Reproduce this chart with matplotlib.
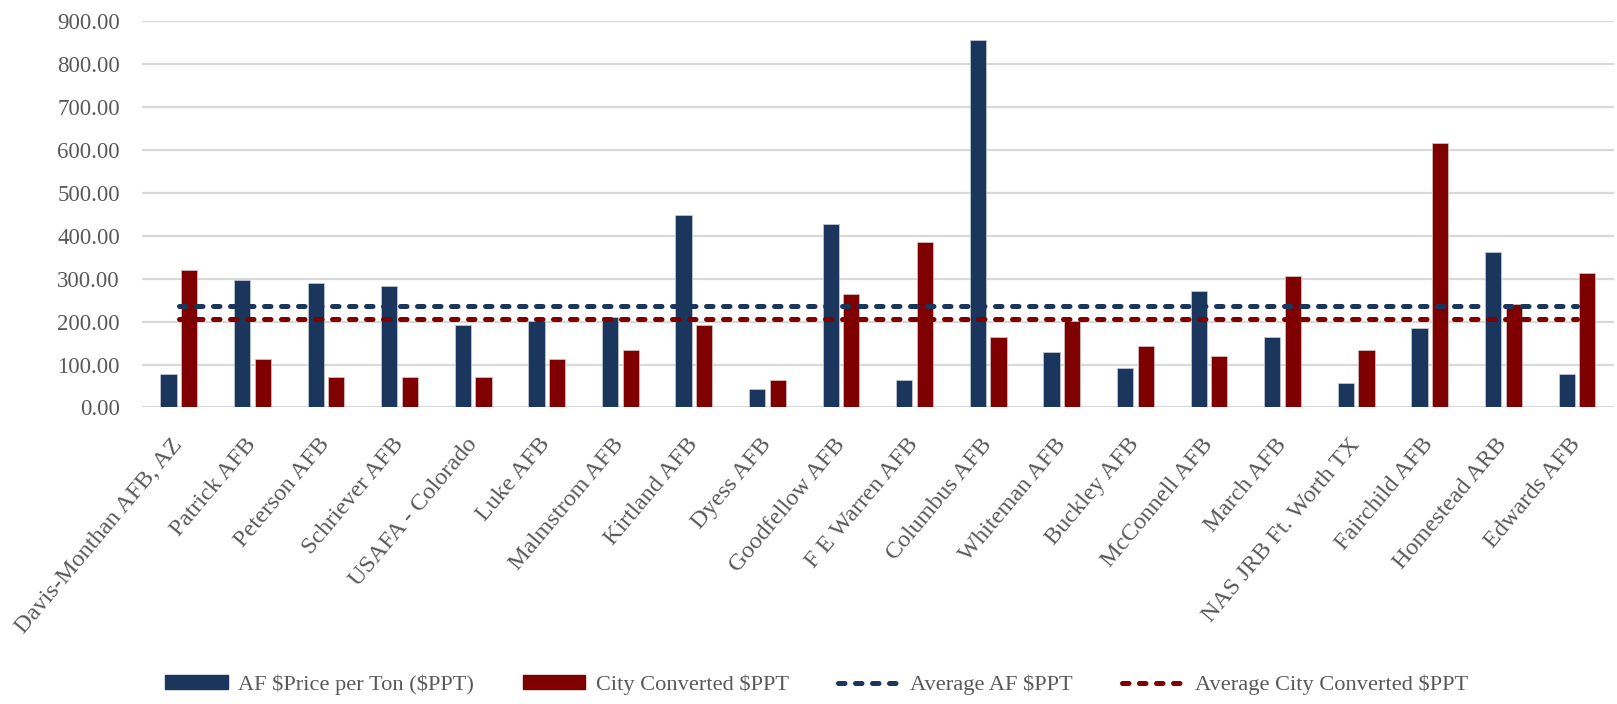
import numpy as np
import matplotlib
matplotlib.use("Agg")
import matplotlib.pyplot as plt
from matplotlib.lines import Line2D
from matplotlib.patches import Patch

# bases along the x axis
bases = ["Davis-Monthan AFB, AZ", "Patrick AFB", "Peterson AFB", "Schriever AFB",
         "USAFA - Colorado", "Luke AFB", "Malmstrom AFB", "Kirtland AFB", "Dyess AFB",
         "Goodfellow AFB", "F E Warren AFB", "Columbus AFB", "Whiteman AFB",
         "Buckley AFB", "McConnell AFB", "March AFB", "NAS JRB Ft. Worth TX",
         "Fairchild AFB", "Homestead ARB", "Edwards AFB"]

# values
af_ppt = [77, 298, 291, 284, 193, 201, 211, 449, 43, 427,
          65, 856, 129, 91, 271, 163, 56, 185, 363, 77]
city_ppt = [321, 114, 70, 70, 70, 114, 133, 193, 65, 264,
            385, 163, 201, 143, 121, 306, 133, 615, 241, 314]
avg_af = 237.0
avg_city = 207.0

yticks = [0, 100, 200, 300, 400, 500, 600, 700, 800, 900]

BLUE = "#1b365d"
RED = "#7f0000"
GRID = "#d9d9d9"
TXT = "#595959"

plt.rcParams['font.family'] = ['Liberation Serif', 'DejaVu Serif']
plt.rcParams['text.parse_math'] = False

fig = plt.figure(figsize=(16.17, 7.04), dpi=100)
ax = fig.add_axes([0.0878, 0.4212, 0.9102, 0.549])

x = np.arange(len(bases))
w = 0.22
ax.bar(x - 0.14, af_ppt, w, color=BLUE, edgecolor="#c8cdd8", linewidth=0.5, zorder=2)
ax.bar(x + 0.14, city_ppt, w, color=RED, edgecolor="#d8c8c8", linewidth=0.5, zorder=2)

dash = dict(lw=3.6, dashes=(1.3, 2.1), dash_capstyle='round', zorder=3)
ax.plot(x, np.full(len(x), avg_af), color=BLUE, **dash)
ax.plot(x, np.full(len(x), avg_city), color=RED, **dash)

ax.set_xlim(-0.5, len(bases) - 0.5)
ax.set_ylim(0, 900)
ax.set_yticks(yticks)
ax.set_yticklabels([f"{v:.2f}" for v in yticks])
ax.yaxis.grid(True, color=GRID, lw=1.6, zorder=0)
ax.set_axisbelow(True)
for s in ax.spines.values():
    s.set_visible(False)
ax.tick_params(axis='both', length=0, colors=TXT, labelsize=16.5)
ax.tick_params(axis='y', pad=16)
ax.tick_params(axis='x', pad=24, labelsize=17.5)

ax.set_xticks(x)
ax.set_xticklabels(bases, rotation=50, ha='right', va='center', rotation_mode='anchor')

handles = [Patch(facecolor=BLUE, edgecolor=BLUE),
           Patch(facecolor=RED, edgecolor=RED),
           Line2D([0], [0], color=BLUE, lw=3.6, dashes=(1.3, 2.1), dash_capstyle='round'),
           Line2D([0], [0], color=RED, lw=3.6, dashes=(1.3, 2.1), dash_capstyle='round')]
labels = ["AF $Price per Ton ($PPT)", "City Converted $PPT",
          "Average AF $PPT", "Average City Converted $PPT"]
leg = fig.legend(handles, labels, loc='center', bbox_to_anchor=(0.505, 0.027), ncol=4,
                 frameon=False, fontsize=16.1, handlelength=2.8, handleheight=0.6,
                 handletextpad=0.45, columnspacing=2.2)
for t in leg.get_texts():
    t.set_color(TXT)

fig.savefig("out.png", dpi=100)
